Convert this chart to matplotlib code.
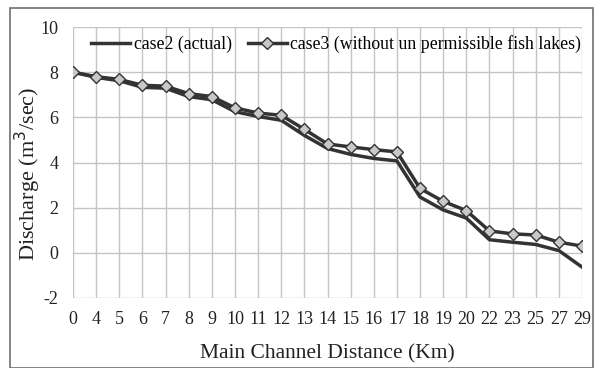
import matplotlib
matplotlib.use('Agg')
import matplotlib.pyplot as plt
from matplotlib.patches import Rectangle

# main channel distance (Km) - used as categories
dist = ['0', '4', '5', '6', '7', '8', '9', '10', '11', '12', '13', '14', '15',
        '16', '17', '18', '19', '20', '22', '23', '25', '27', '29']
# discharge (m3/sec)
case2 = [8.0, 7.77, 7.62, 7.33, 7.29, 6.92, 6.78, 6.25, 6.04, 5.87, 5.2, 4.62,
         4.36, 4.18, 4.07, 2.47, 1.9, 1.54, 0.58, 0.47, 0.37, 0.1, -0.63]
case3 = [8.0, 7.8, 7.68, 7.42, 7.38, 7.05, 6.92, 6.42, 6.19, 6.09, 5.47, 4.82,
         4.69, 4.57, 4.47, 2.85, 2.28, 1.87, 0.97, 0.84, 0.79, 0.47, 0.3]

plt.rcParams['font.family'] = ['Liberation Serif', 'DejaVu Serif']

fig = plt.figure(figsize=(6.02, 3.68), dpi=100)
ax = fig.add_axes([73/602, 1-298/368, (582-73)/602, (298-27)/368])

x = list(range(len(dist)))
ax.plot(x, case2, color='#333333', lw=2.5, label='case2 (actual)', zorder=3)
ax.plot(x, case3, color='#333333', lw=2.5, marker='D', markersize=6,
        markerfacecolor='#c8c8c8', markeredgecolor='#333333', markeredgewidth=1.0,
        label='case3 (without un permissible fish lakes)', zorder=4)

ax.set_xlim(0, len(dist)-1)
ax.set_ylim(-2, 10)
ax.set_xticks(x)
ax.set_xticklabels(dist)
ax.set_yticks([-2, 0, 2, 4, 6, 8, 10])
ax.set_yticklabels(['-2', '0', '2', '4', '6', '8', '10'])
ax.tick_params(length=0, labelsize=13, colors='#222222', pad=9)
ax.tick_params(axis='y', pad=10.5)
ax.grid(True, color='#c4c4c4', lw=1.0)
ax.set_axisbelow(True)
for s in ax.spines.values():
    s.set_visible(False)

ax.set_xlabel('Main Channel Distance (Km)', fontsize=15.5, color='#222222', labelpad=12)
ax.set_ylabel('Discharge (m$^3$/sec)', fontsize=16, color='#222222', va='center')
ax.yaxis.set_label_coords((28-73)/509, (298-174)/271)

ax.legend(loc='upper left', bbox_to_anchor=(84/602, 1-28/368),
          bbox_transform=fig.transFigure, ncol=2, frameon=False, fontsize=12.8,
          handlelength=2.2, columnspacing=0.9, handletextpad=0.2, borderaxespad=0)

# outer border of the chart
fig.patches.append(Rectangle((10/602, 0), 583/602, 1-8/368, transform=fig.transFigure,
                             fill=False, edgecolor='#707070', lw=1.2))

fig.savefig('out.png', dpi=100)
